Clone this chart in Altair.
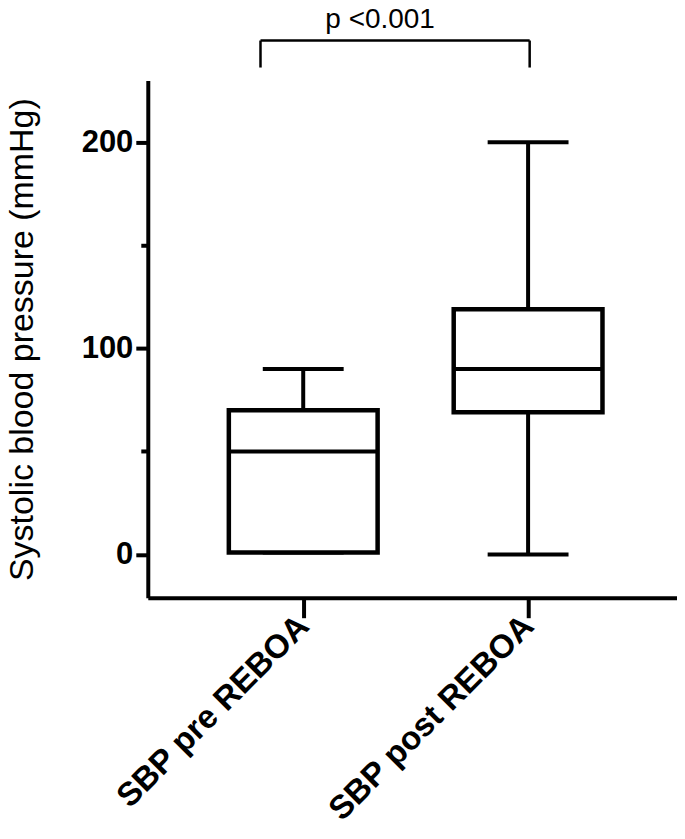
import altair as alt
import pandas as pd

# ---- data ----
groups = ["SBP pre REBOA", "SBP post REBOA"]
xpos = [1, 2]
mins = [1, 0]
q1s = [1, 69]
medians = [50, 90]
q3s = [70, 119]
maxs = [90, 200]

# significance annotation
bracket_x = [0.81, 2.007]
bracket_top = 249.4
bracket_bottom = 236.3
p_label = "p <0.001"
p_x = 1.342
p_y = 259.5

y_ticks = [0, 50, 100, 150, 200]

df = pd.DataFrame({"group": groups, "x": xpos, "min": mins, "q1": q1s,
                   "median": medians, "q3": q3s, "max": maxs})

FONT = "Liberation Sans"
xscale = alt.Scale(domain=[0.331, 2.640], nice=False, zero=False)
yscale = alt.Scale(domain=[-21, 230], nice=False, zero=False)

label_expr = "datum.value == 1 ? '%s' : (datum.value == 2 ? '%s' : '')" % (groups[0], groups[1])

xaxis = alt.Axis(values=xpos, labelExpr=label_expr, title=None, tickSize=20,
                 labelAngle=-45, labelAlign="right", labelBaseline="middle",
                 labelFontSize=33, labelFontWeight="bold", labelPadding=3,
                 labelLimit=1000, labelOverlap=False, grid=False)
yaxis = alt.Axis(values=y_ticks,
                 labelExpr="datum.value % 100 === 0 ? datum.label : ''",
                 tickSize={"condition": {"test": "datum.value % 100 === 0", "value": 12}, "value": 7},
                 labelFontSize=31, labelFontWeight="bold", labelPadding=3,
                 title="Systolic blood pressure (mmHg)", titleFontSize=34,
                 titleFontWeight="normal", titlePadding=42, grid=False)

base = alt.Chart(df)

whisk_lo = base.mark_rule(color="black", strokeWidth=4).encode(
    x=alt.X("x:Q", scale=xscale, axis=xaxis),
    y=alt.Y("min:Q", scale=yscale, axis=yaxis),
    y2="q1:Q")
whisk_hi = base.mark_rule(color="black", strokeWidth=4).encode(
    x=alt.X("x:Q", scale=xscale), y=alt.Y("q3:Q", scale=yscale), y2="max:Q")
cap_lo = base.mark_tick(color="black", size=81, thickness=4, orient="horizontal", opacity=1).encode(
    x=alt.X("x:Q", scale=xscale), y=alt.Y("min:Q", scale=yscale))
cap_hi = base.mark_tick(color="black", size=81, thickness=4, orient="horizontal", opacity=1).encode(
    x=alt.X("x:Q", scale=xscale), y=alt.Y("max:Q", scale=yscale))
box = base.mark_bar(size=149, fill="white", stroke="black", strokeWidth=4.5).encode(
    x=alt.X("x:Q", scale=xscale), y=alt.Y("q1:Q", scale=yscale), y2="q3:Q")
med = base.mark_tick(color="black", size=149, thickness=4, orient="horizontal", opacity=1).encode(
    x=alt.X("x:Q", scale=xscale), y=alt.Y("median:Q", scale=yscale))

br_df = pd.DataFrame({"x": [bracket_x[0]], "x2": [bracket_x[1]], "y": [bracket_top]})
br_h = alt.Chart(br_df).mark_rule(color="black", strokeWidth=2.5, clip=False).encode(
    x=alt.X("x:Q", scale=xscale), x2="x2:Q", y=alt.Y("y:Q", scale=yscale))
brv_df = pd.DataFrame({"x": bracket_x, "y": [bracket_bottom] * 2, "y2": [bracket_top] * 2})
br_v = alt.Chart(brv_df).mark_rule(color="black", strokeWidth=2.5, clip=False).encode(
    x=alt.X("x:Q", scale=xscale), y=alt.Y("y:Q", scale=yscale), y2="y2:Q")
p_df = pd.DataFrame({"x": [p_x], "y": [p_y], "t": [p_label]})
p_text = alt.Chart(p_df).mark_text(fontSize=28, font=FONT, color="black", clip=False,
                                   align="center", baseline="middle").encode(
    x=alt.X("x:Q", scale=xscale), y=alt.Y("y:Q", scale=yscale), text="t:N")

chart = alt.layer(whisk_lo, whisk_hi, cap_lo, cap_hi, box, med, br_h, br_v, p_text).properties(
    width=530, height=518,
    background="white",
    autosize=alt.AutoSizeParams(type="none"),
    padding={"left": 140, "top": 72, "right": 0, "bottom": 238},
).configure_view(stroke=None).configure_axis(
    domainColor="black", domainWidth=4, tickColor="black", tickWidth=4,
    labelColor="black", titleColor="black", labelFont=FONT, titleFont=FONT,
)

chart.save("out.html", embed_options={"renderer": "svg", "actions": False})
